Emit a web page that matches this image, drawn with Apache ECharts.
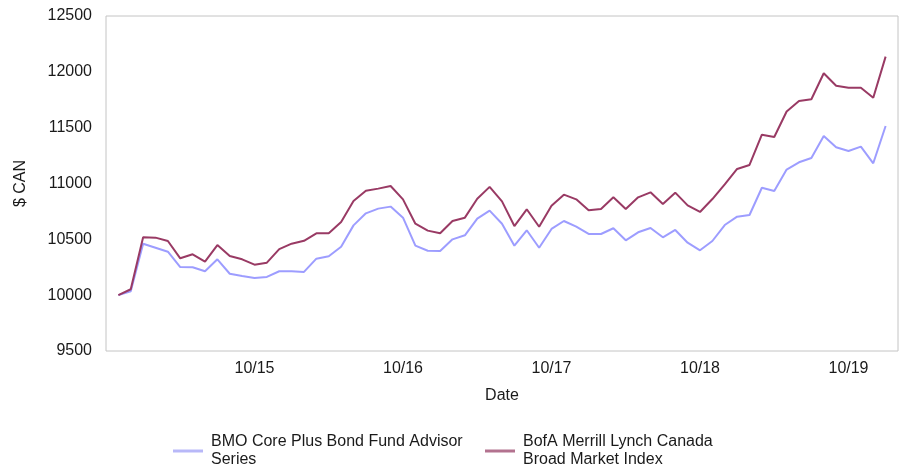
<!DOCTYPE html>
<html>
<head>
<meta charset="utf-8">
<script src="https://cdn.jsdelivr.net/npm/echarts@6/dist/echarts.min.js"></script>
<style>
  html, body { margin: 0; padding: 0; background: #fff; }
  #chart { width: 902px; height: 467px; }
</style>
</head>
<body>
<div id="chart"></div>
<script>
// Month-end dates (MM/YY), one per observation
const dates = [
  '11/14','12/14',
  '01/15','02/15','03/15','04/15','05/15','06/15','07/15','08/15','09/15','10/15','11/15','12/15',
  '01/16','02/16','03/16','04/16','05/16','06/16','07/16','08/16','09/16','10/16','11/16','12/16',
  '01/17','02/17','03/17','04/17','05/17','06/17','07/17','08/17','09/17','10/17','11/17','12/17',
  '01/18','02/18','03/18','04/18','05/18','06/18','07/18','08/18','09/18','10/18','11/18','12/18',
  '01/19','02/19','03/19','04/19','05/19','06/19','07/19','08/19','09/19','10/19','11/19','12/19',
  '01/20'
];

// Dates shown under the x axis
const tickLabels = ['10/15', '10/16', '10/17', '10/18', '10/19'];

// Growth of $10,000 — fund
const fundValues = [
  10000, 10035, 10461, 10425, 10389, 10252, 10250, 10214, 10321, 10192,
  10172, 10154, 10163, 10214, 10214, 10208, 10327, 10348, 10434, 10625,
  10733, 10775, 10793, 10694, 10443, 10398, 10395, 10500, 10536, 10685,
  10757, 10640, 10443, 10581, 10425, 10593, 10664, 10613, 10548, 10548,
  10599, 10491, 10563, 10602, 10518, 10584, 10470, 10402, 10485, 10628,
  10703, 10718, 10962, 10933, 11125, 11190, 11228, 11425, 11324, 11291,
  11330, 11181, 11515
];

// Growth of $10,000 — benchmark index
const indexValues = [
  10000, 10053, 10518, 10515, 10485, 10330, 10366, 10300, 10449, 10351,
  10321, 10273, 10291, 10413, 10461, 10487, 10554, 10554, 10655, 10843,
  10936, 10954, 10978, 10858, 10640, 10578, 10554, 10664, 10694, 10864,
  10970, 10840, 10619, 10769, 10613, 10801, 10900, 10858, 10760, 10772,
  10876, 10772, 10876, 10921, 10816, 10918, 10804, 10745, 10861, 10993,
  11130, 11166, 11437, 11416, 11645, 11739, 11754, 11987, 11876, 11858,
  11858, 11768, 12136
];

const seriesNames = ['BMO Core Plus Bond Fund Advisor Series', 'BofA Merrill Lynch Canada Broad Market Index'];
const legendText = ['BMO Core Plus Bond Fund Advisor\nSeries', 'BofA Merrill Lynch Canada\nBroad Market Index'];
const colors = ['#9d9dff', '#993a64'];
const legendSwatch = ['#b8b8f8', '#b3728f'];

const font = 'Liberation Sans, Arial, sans-serif';
const textColor = '#1a1a1a';
const fontSize = 16;

const chart = echarts.init(document.getElementById('chart'));

const legendCommon = {
  orient: 'horizontal',
  top: 433,
  padding: 0,
  itemWidth: 30,
  itemHeight: 3,
  icon: 'rect',
  selectedMode: false,
  textStyle: { fontFamily: font, fontSize: fontSize, color: textColor, lineHeight: 18, padding: [0, 0, 0, 3] },
  formatter: name => legendText[seriesNames.indexOf(name)]
};

chart.setOption({
  animation: false,
  color: colors,
  grid: {
    left: 106, right: 4, top: 16, bottom: 116,
    show: true, borderColor: '#c4c4c4', borderWidth: 1
  },
  legend: [
    Object.assign({}, legendCommon, {
      left: 173,
      data: [{ name: seriesNames[0], itemStyle: { color: legendSwatch[0] } }]
    }),
    Object.assign({}, legendCommon, {
      left: 485,
      data: [{ name: seriesNames[1], itemStyle: { color: legendSwatch[1] } }]
    })
  ],
  xAxis: {
    type: 'value',
    min: -1,
    max: 63,
    interval: 12,
    name: 'Date',
    nameLocation: 'middle',
    nameGap: 37,
    nameTextStyle: { fontFamily: font, fontSize: fontSize, color: textColor },
    axisLine: { show: false },
    axisTick: { show: false },
    splitLine: { show: false },
    axisLabel: {
      margin: 10,
      fontFamily: font, fontSize: fontSize, color: textColor,
      formatter: v => {
        const d = dates[v];
        return d && tickLabels.indexOf(d) >= 0 ? d : '';
      }
    }
  },
  yAxis: {
    type: 'value',
    min: 9500,
    max: 12500,
    interval: 500,
    name: '$ CAN',
    nameLocation: 'middle',
    nameRotate: 90,
    nameGap: 77,
    nameTextStyle: { fontFamily: font, fontSize: fontSize, color: textColor },
    axisLine: { show: false },
    axisTick: { show: false },
    splitLine: { show: false },
    axisLabel: {
      margin: 14, fontFamily: font, fontSize: fontSize, color: textColor,
      formatter: v => String(v)
    }
  },
  series: [
    {
      name: seriesNames[0],
      type: 'line',
      symbol: 'none',
      data: fundValues.map((v, i) => [i, v]),
      lineStyle: { width: 2, color: colors[0] },
      itemStyle: { color: colors[0] },
      z: 2
    },
    {
      name: seriesNames[1],
      type: 'line',
      symbol: 'none',
      data: indexValues.map((v, i) => [i, v]),
      lineStyle: { width: 2, color: colors[1] },
      itemStyle: { color: colors[1] },
      z: 3
    }
  ]
});
</script>
</body>
</html>
